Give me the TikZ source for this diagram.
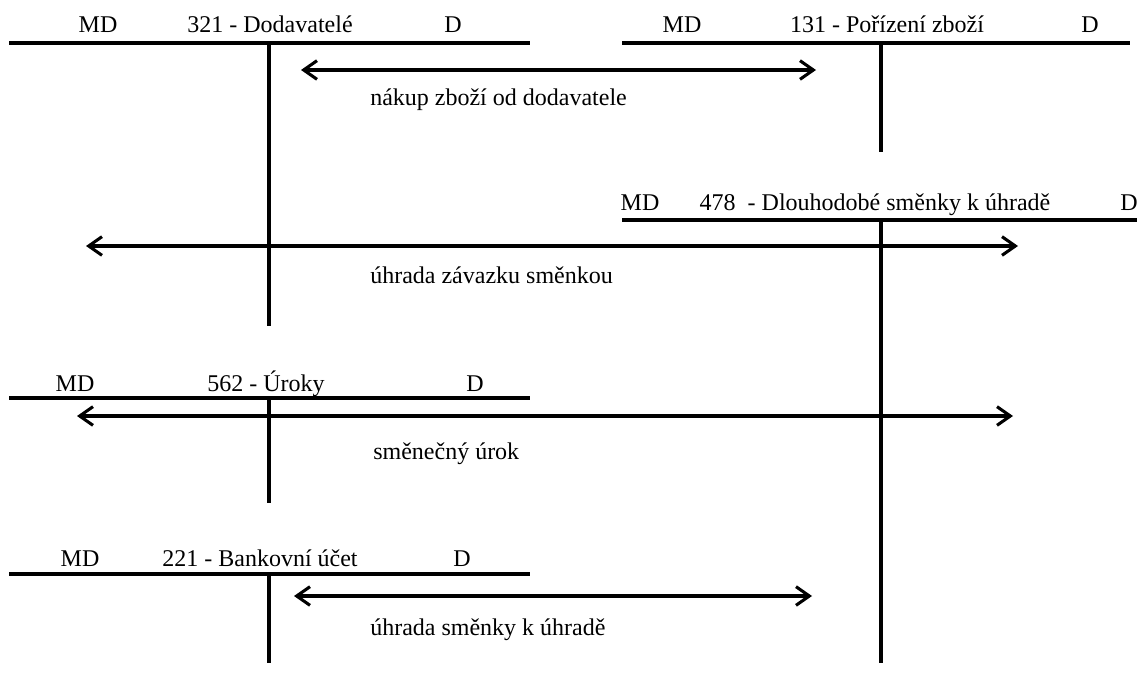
\documentclass[tikz,border=0pt]{standalone}
\usepackage{fontspec}
\setmainfont{Liberation Serif}
\usetikzlibrary{arrows.meta}

\begin{document}
\begin{tikzpicture}[x=0.75pt,y=-0.75pt,
	acct/.style={line width=2.3pt},
	head/.style={anchor=base,inner sep=0pt,font=\fontsize{18}{22}\selectfont},
	lab/.style={anchor=base west,inner sep=0pt,font=\fontsize{18}{22}\selectfont},
	flow/.style={line width=2.3pt,{Straight Barb[length=10pt,width=14pt]}-{Straight Barb[length=10pt,width=14pt]}}]

\useasboundingbox (0,0) rectangle (1137,673);

	% 321 - Dodavatele
	\node[head] (md1) at (98,33) {MD};
	\node[head] (t1) at (270,33) {321 - Dodavatelé};
	\node[head] (d1) at (453,33) {D};
	\draw [acct] (9,43) to (530,43);
	\draw [acct] (269,43) to (269,326);

	% 131 - Porizeni zbozi
	\node[head] (md2) at (682,33) {MD};
	\node[head] (t2) at (887,33) {131 - Pořízení zboží};
	\node[head] (d2) at (1090,33) {D};
	\draw [acct] (622,43) to (1130,43);
	\draw [acct] (881,43) to (881,152);

	% 478 - Dlouhodobe smenky
	\node[head] (md3) at (640,211) {MD};
	\node[head] (t3) at (875,211) {478 \ - Dlouhodobé směnky k úhradě};
	\node[head,anchor=base west] (d3) at (1120,211) {D};
	\draw [acct] (622,220) to (1137,220);
	\draw [acct] (881,220) to (881,663);

	% 562 - Uroky
	\node[head] (md4) at (75,391) {MD};
	\node[head] (t4) at (266,391) {562 - Úroky};
	\node[head] (d4) at (475,391) {D};
	\draw [acct] (9,398) to (530,398);
	\draw [acct] (269,398) to (269,503);

	% 221 - Bankovni ucet
	\node[head] (md5) at (80,566) {MD};
	\node[head] (t5) at (260,566) {221 - Bankovní účet};
	\node[head] (d5) at (462,566) {D};
	\draw [acct] (9,574) to (530,574);
	\draw [acct] (269,574) to (269,663);

	% arrows
	\coordinate (a1l) at (301,70);
	\coordinate (a1r) at (816,70);
	\coordinate (a2l) at (86,246);
	\coordinate (a2r) at (1018,246);
	\coordinate (a3l) at (77,416);
	\coordinate (a3r) at (1013,416);
	\coordinate (a4l) at (294,596);
	\coordinate (a4r) at (812,596);

	\draw [flow] (a1l) to (a1r);
	\draw [flow] (a2l) to (a2r);
	\draw [flow] (a3l) to (a3r);
	\draw [flow] (a4l) to (a4r);

	\node[lab] (n1) at (370,106) {nákup zboží od dodavatele};
	\node[lab] (n2) at (370,284) {úhrada závazku směnkou};
	\node[lab] (n3) at (373,459) {směnečný úrok};
	\node[lab] (n4) at (370,635) {úhrada směnky k úhradě};

\end{tikzpicture}
\end{document}
